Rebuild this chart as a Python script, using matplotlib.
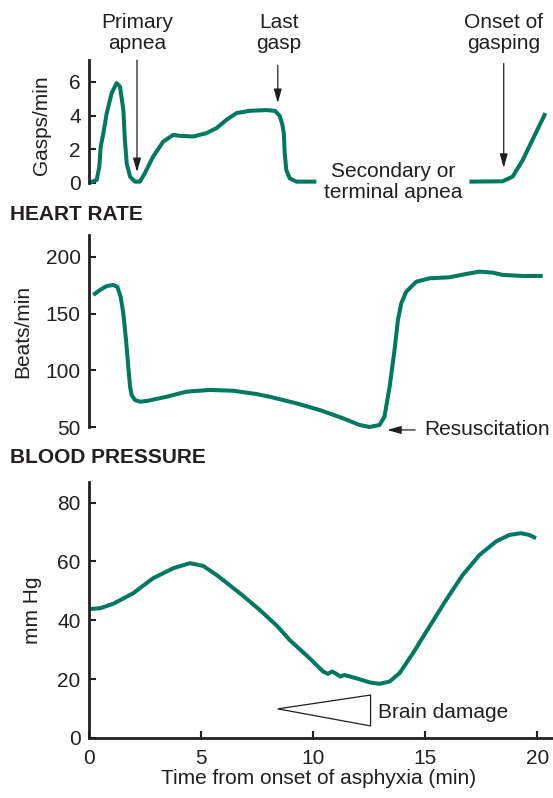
import matplotlib.pyplot as plt
from matplotlib.patches import Polygon

plt.rcParams['font.family'] = ['Liberation Sans', 'DejaVu Sans']

GREEN = '#00795f'
INK = '#231f20'

# gasping rate (gasps/min), two pieces around the secondary apnea label
gasp_t1 = [0, 0.34, 0.46, 0.52, 0.64, 0.79, 1.01, 1.23, 1.38, 1.53, 1.60, 1.68, 1.83,
           2.05, 2.27, 2.49, 2.86, 3.31, 3.76, 4.05, 4.65, 5.24, 5.69, 6.13, 6.58, 7.17,
           7.92, 8.3, 8.5, 8.62, 8.69, 8.73, 8.8, 8.95, 9.25, 10.14]
gasp_v1 = [0.0, 0.18, 0.97, 2.16, 2.96, 4.15, 5.34, 5.93, 5.73, 4.35, 2.56, 1.17, 0.38,
           0.08, 0.08, 0.58, 1.57, 2.46, 2.86, 2.8, 2.76, 2.96, 3.26, 3.75, 4.15, 4.29,
           4.33, 4.28, 4.0, 3.5, 2.96, 1.77, 0.77, 0.28, 0.08, 0.08]
gasp_t2 = [16.97, 18.45, 18.9, 19.35, 20.36]
gasp_v2 = [0.08, 0.1, 0.38, 1.37, 4.15]

# heart rate (beats/min)
hr_t = [0.19, 0.49, 0.79, 1.08, 1.26, 1.41, 1.53, 1.65, 1.75, 1.83, 1.9, 2.05, 2.27,
        2.64, 3.46, 4.35, 5.39, 6.43, 7.47, 8.06, 9.25, 10.29, 11.33, 12.07, 12.52,
        12.96, 13.18, 13.41, 13.63, 13.78, 13.93, 14.15, 14.6, 15.19, 16.08, 16.82,
        17.42, 18.01, 18.45, 19.35, 20.24]
hr_v = [166.5, 170.9, 174.4, 175.3, 173.8, 165, 150.3, 126.8, 103.2, 85.6, 78.2, 73.8,
        72.3, 73.2, 76.7, 81.2, 82.7, 82, 79.1, 76.7, 70.9, 65, 57.7, 51.8, 50,
        51.8, 59.1, 85.6, 118, 144.4, 159.2, 169.4, 178.2, 181.2, 182.1, 185,
        187.1, 186.2, 184.2, 183.3, 183.3]

# blood pressure (mm Hg)
bp_t = [0, 0.49, 1.08, 1.97, 2.86, 3.76, 4.5, 5.09, 5.69, 6.73, 7.62, 8.4, 8.95, 9.84,
        10.44, 10.66, 10.85, 11.03, 11.21, 11.4, 11.92, 12.52, 12.96, 13.41, 13.85,
        14.45, 15.19, 15.93, 16.67, 17.42, 18.16, 18.75, 19.27, 19.64, 19.94]
bp_v = [43.8, 44.1, 45.6, 49.2, 54.3, 57.7, 59.4, 58.5, 55.4, 49.2, 43.5, 38.0, 33.3, 27.1,
        22.6, 21.8, 22.6, 21.8, 20.9, 21.4, 20.3, 18.9, 18.4, 19.2, 22.0,
        28.8, 37.9, 46.9, 55.4, 62.2, 66.8, 69.0, 69.6, 69.0, 67.9]

fig = plt.figure(figsize=(5.53, 7.98), dpi=100)
left, width = 0.161, 0.835
ax1 = fig.add_axes([left, 0.7707, width, 0.154])
ax2 = fig.add_axes([left, 0.4649, width, 0.2406])
ax3 = fig.add_axes([left, 0.0752, width, 0.3208])

for ax in (ax1, ax2, ax3):
    ax.set_xlim(0, 20.6)
    for s in ('top', 'right'):
        ax.spines[s].set_visible(False)
    for s in ('left', 'bottom'):
        ax.spines[s].set_linewidth(2)
        ax.spines[s].set_color(INK)
    ax.tick_params(direction='in', length=5, width=1.5, color=INK,
                   labelsize=15, labelcolor=INK, pad=6)
    ax.patch.set_alpha(0)

for ax in (ax1, ax2):
    ax.spines['bottom'].set_visible(False)
    ax.set_xticks([])

ax3.tick_params(axis='x', pad=8)

line_kw = dict(color=GREEN, lw=2.9, solid_capstyle='butt', solid_joinstyle='round', clip_on=False)

# gasping
ax1.plot(gasp_t1, gasp_v1, **line_kw)
ax1.plot(gasp_t2, gasp_v2, **line_kw)
ax1.set_ylim(0, 7.3)
ax1.set_yticks([0, 2, 4, 6])

arrow = dict(arrowstyle='-|>,head_length=0.7,head_width=0.2', color=INK, lw=0.9,
             mutation_scale=12, shrinkA=0, shrinkB=0)
txt = dict(ha='center', va='center', fontsize=15, linespacing=1.12, color=INK, clip_on=False)
ax1.annotate('', xy=(2.14, 0.65), xytext=(2.14, 7.3), arrowprops=arrow, annotation_clip=False)
ax1.annotate('', xy=(8.42, 4.75), xytext=(8.42, 7.0), arrowprops=arrow, annotation_clip=False)
ax1.annotate('', xy=(18.5, 0.9), xytext=(18.5, 7.1), arrowprops=arrow, annotation_clip=False)
ax1.text(2.14, 8.9, 'Primary\napnea', **txt)
ax1.text(8.46, 8.9, 'Last\ngasp', **txt)
ax1.text(18.5, 8.9, 'Onset of\ngasping', **txt)
ax1.text(13.55, 0.05, 'Secondary or\nterminal apnea', **txt)

# heart rate
ax2.plot(hr_t, hr_v, **line_kw)
ax2.set_ylim(50, 219.4)
ax2.set_yticks([50, 100, 150, 200])
ax2.annotate('', xy=(13.3, 47.4), xytext=(14.55, 47.4), arrowprops=arrow, annotation_clip=False)
ax2.text(14.95, 47.4, 'Resuscitation', ha='left', va='center', fontsize=15,
         color=INK, clip_on=False)

# blood pressure
ax3.plot(bp_t, bp_v, **line_kw)
ax3.set_ylim(0, 87)
ax3.set_yticks([0, 20, 40, 60, 80])
ax3.set_xticks([0, 5, 10, 15, 20])
ax3.spines['bottom'].set_bounds(0, 20.7)
ax3.add_patch(Polygon([(8.42, 9.9), (12.56, 14.6), (12.56, 4.1)], closed=True,
                      fill=False, edgecolor=INK, lw=0.9, clip_on=False))
ax3.text(12.87, 8.8, 'Brain damage', ha='left', va='center', fontsize=15, color=INK)

# panel titles and axis labels
fig.text(0.018, 1 - 214 / 798, 'HEART RATE', fontsize=15, fontweight='bold', color=INK, va='center')
fig.text(0.018, 1 - 457 / 798, 'BLOOD PRESSURE', fontsize=15, fontweight='bold', color=INK, va='center')
fig.text(41 / 553, 1 - 125 / 798, 'Gasps/min', rotation=90, ha='center', va='center', fontsize=15, color=INK)
fig.text(23 / 553, 1 - 331 / 798, 'Beats/min', rotation=90, ha='center', va='center', fontsize=15, color=INK)
fig.text(33 / 553, 1 - 610 / 798, 'mm Hg', rotation=90, ha='center', va='center', fontsize=15, color=INK)
fig.text(319 / 553, 1 - 778 / 798, 'Time from onset of asphyxia (min)', ha='center', va='center',
         fontsize=15, color=INK)

fig.savefig('out.png', dpi=100)
